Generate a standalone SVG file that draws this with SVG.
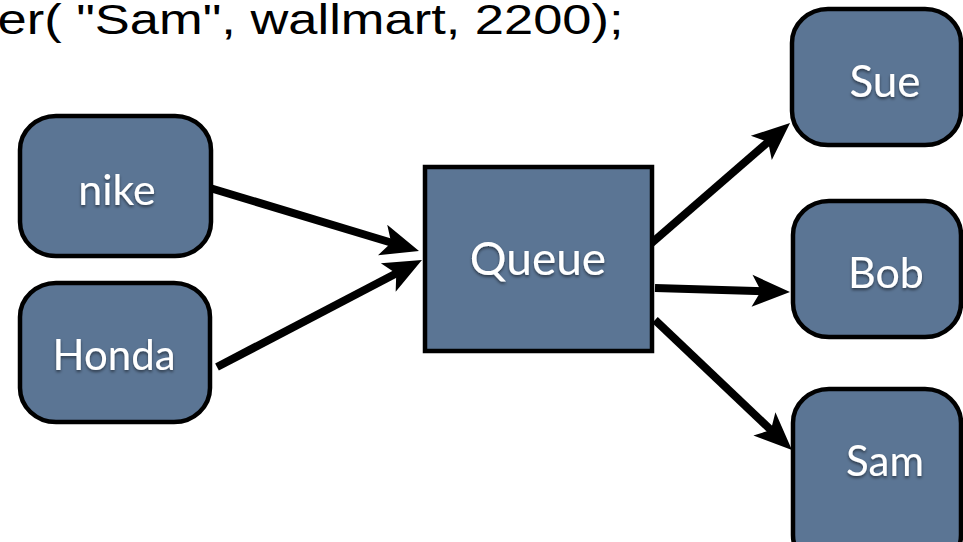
<svg xmlns="http://www.w3.org/2000/svg" width="963" height="542" viewBox="0 0 963 542">
  <style>
    .box { fill: #5b7594; stroke: #000; stroke-width: 4.5; }
    .lbl { font-family: Lato, "Open Sans", sans-serif; fill: #fff; text-anchor: middle; filter: url(#shadow); }
    .code { font-family: "Liberation Sans", Arial, sans-serif; font-size: 43px; fill: #000; }
    .conn { stroke: #000; stroke-width: 8; fill: none; marker-end: url(#arrow); }
  </style>
  <defs>
    <marker id="arrow" markerUnits="userSpaceOnUse" viewBox="-14 -18 42 36" markerWidth="42" markerHeight="36" refX="0" refY="0" orient="auto">
      <path d="M 26 0 L -12 -16 L -3 0 L -12 16 Z" fill="#000"/>
    </marker>
    <filter id="shadow" x="-20%" y="-20%" width="140%" height="160%">
      <feDropShadow dx="0" dy="2" stdDeviation="1.5" flood-color="#000" flood-opacity="0.5"/>
    </filter>
  </defs>
  <rect width="963" height="542" fill="#fff"/>
  <text class="code" transform="scale(1.22,1)" x="-2" y="34">er( "Sam", wallmart, 2200);</text>
  <g id="connectors">
    <path class="conn" d="M 200 185 L 394.1 243.5"/>
    <path class="conn" d="M 217 367 L 398.9 272"/>
    <path class="conn" d="M 647 247 L 770.4 140"/>
    <path class="conn" d="M 655 288 L 764 291.2"/>
    <path class="conn" d="M 655 320 L 773.1 432.1"/>
  </g>
  <g id="nike">
    <rect class="box" x="20" y="116" width="191" height="140" rx="36" ry="34"/>
    <text class="lbl" x="117" y="205" font-size="43">nike</text>
  </g>
  <g id="honda">
    <rect class="box" x="20" y="283" width="190" height="139" rx="36" ry="34"/>
    <text class="lbl" x="114" y="370" font-size="42">Honda</text>
  </g>
  <g id="queue">
    <rect class="box" x="425" y="167" width="227" height="184"/>
    <text class="lbl" x="538" y="275" font-size="46">Queue</text>
  </g>
  <g id="sue">
    <rect class="box" x="792" y="9" width="169" height="136" rx="36" ry="34"/>
    <text class="lbl" x="885" y="97" font-size="44">Sue</text>
  </g>
  <g id="bob">
    <rect class="box" x="793" y="201" width="168" height="136" rx="36" ry="34"/>
    <text class="lbl" x="886" y="288" font-size="43">Bob</text>
  </g>
  <g id="sam">
    <rect class="box" x="793" y="389" width="168" height="180" rx="36" ry="34"/>
    <text class="lbl" x="885" y="476" font-size="42">Sam</text>
  </g>
</svg>
